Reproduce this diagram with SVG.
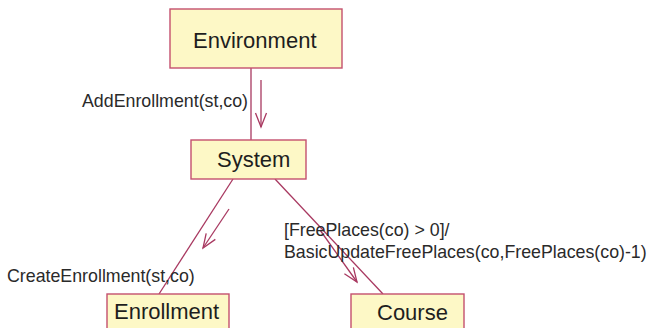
<svg xmlns="http://www.w3.org/2000/svg" width="650" height="328" viewBox="0 0 650 328">
<style>
.box{fill:#fdf8c6;stroke:#c4506e;stroke-width:1.4}
.nt{font-family:"Liberation Sans",Arial,sans-serif;font-size:22px;fill:#1e1e1e}
.lt{font-family:"Liberation Sans",Arial,sans-serif;font-size:17.8px;fill:#2a2a2a}
.ln{stroke:#a83860;stroke-width:1.3;fill:none}
.ar{stroke:#a83860;stroke-width:1.3;fill:none;marker-end:url(#v)}
</style>
<defs>
<marker id="v" markerUnits="userSpaceOnUse" markerWidth="20" markerHeight="16" viewBox="-16 -8 20 16" refX="0" refY="0" orient="auto">
<path d="M-14,-5.5 L0,0 L-14,5.5" fill="none" stroke="#a83860" stroke-width="1.3"/>
</marker>
</defs>
<rect width="650" height="328" fill="#ffffff"/>
<g id="connectors">
<line class="ln" x1="251" y1="68" x2="251" y2="140"/>
<line class="ln" x1="233" y1="179" x2="159" y2="294"/>
<line class="ln" x1="275" y1="179" x2="383" y2="294"/>
<line class="ar" x1="261" y1="80" x2="261" y2="127"/>
<line class="ar" x1="229" y1="209" x2="203" y2="248"/>
<line class="ar" x1="320" y1="230" x2="357" y2="282"/>
<text class="lt" x="82" y="107">AddEnrollment(st,co)</text>
<text class="lt" x="7" y="282">CreateEnrollment(st,co)</text>
<text class="lt" x="284" y="236">[FreePlaces(co) &gt; 0]/</text>
<text class="lt" x="284" y="258">BasicUpdateFreePlaces(co,FreePlaces(co)-1)</text>
</g>
<g id="environment">
<rect class="box" x="170" y="9" width="172" height="59"/>
<text class="nt" x="193" y="48">Environment</text>
</g>
<g id="system">
<rect class="box" x="191" y="140" width="115" height="39"/>
<text class="nt" x="217" y="167">System</text>
</g>
<g id="enrollment">
<rect class="box" x="107" y="294" width="122" height="50"/>
<text class="nt" x="114" y="319">Enrollment</text>
</g>
<g id="course">
<rect class="box" x="351" y="294" width="113" height="50"/>
<text class="nt" x="377" y="320">Course</text>
</g>
</svg>
